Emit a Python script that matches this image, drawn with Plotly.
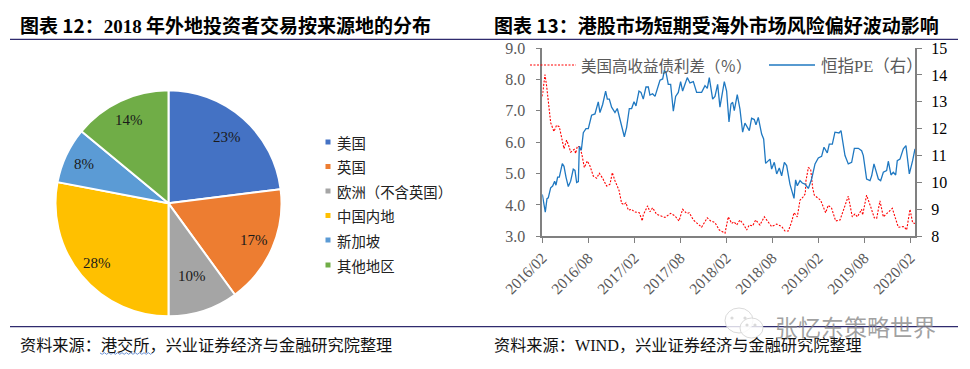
import math
import plotly.graph_objects as go

W, H = 970, 369

pie_labels = ["美国", "英国", "欧洲（不含英国）", "中国内地", "新加坡", "其他地区"]
pie_values = [23, 17, 10, 28, 8, 14]
pie_colors = ["#4472C4", "#ED7D31", "#A5A5A5", "#FFC000", "#5B9BD5", "#70AD47"]

date_ticks = [0, 6, 12, 18, 24, 30, 36, 42, 48]
date_labels = ["2016/02", "2016/08", "2017/02", "2017/08", "2018/02", "2018/08", "2019/02", "2019/08", "2020/02"]

pe_months = [0, .39, .61, .78, 1.09, 1.35, 1.61, 1.78, 2.0, 2.22, 2.61, 2.83, 3.09, 3.39, 3.7, 4.04, 4.26, 4.48, 4.7, 4.83,
             5.09, 5.35, 5.7, 6, 6.43, 6.87, 7.3, 7.52, 7.87, 8.26, 8.48, 8.74, 9.04, 9.48, 9.78, 10.22, 10.7, 11, 11.35, 11.65,
             11.96, 12.22, 12.61, 12.87, 13.17, 13.52, 13.83, 14.04, 14.39, 14.7, 15, 15.35, 15.7, 15.91, 16.13, 16.43, 16.74, 17.09, 17.39, 17.74,
             18.04, 18.3, 18.61, 18.91, 19.26, 19.7, 20.13, 20.78, 21.22, 21.52, 21.78, 22.22, 22.52, 22.87, 23.17, 23.74, 24.04, 24.35, 24.61, 24.83,
             25.04, 25.43, 25.78, 26.13, 26.43, 27, 27.3, 27.65, 27.87, 28.17, 28.61, 28.87, 29.13, 29.7, 29.91, 30.26, 30.57, 30.91, 31.22, 31.57,
             31.87, 32.3, 32.83, 33.04, 33.26, 33.61, 33.91, 34.26, 34.7, 35.13, 35.57, 36, 36.43, 36.74, 37.17, 37.43, 37.83, 38.17, 38.7, 38.96,
             39.48, 39.91, 40.35, 40.7, 41.22, 41.65, 41.87, 42.3, 42.74, 42.96, 43.26, 43.83, 44.13, 44.48, 44.91, 45.13, 45.48, 45.78, 46.09, 46.3,
             46.65, 47.09, 47.43, 47.87, 48.3, 48.61]
pe_values = [9.56, 8.9, 9.4, 9.43, 9.8, 9.87, 10.05, 9.9, 10.2, 10.2, 10.7, 10.6, 10.2, 9.85, 10.05, 10.5, 10.45, 10.0, 10.03, 11.35,
             11.2, 11.85, 12, 12, 12.5, 12.55, 13, 12.6, 12.9, 13.4, 13.1, 13.1, 12.8, 12.6, 12.75, 12.25, 11.7, 12.05, 12.75, 12.75,
             13, 12.85, 13.4, 13.35, 13.1, 13.55, 13.55, 13.25, 13.3, 13.2, 13.5, 13.8, 13.85, 14.15, 14.1, 13.65, 13.65, 12.65, 13.2, 13.35,
             13.75, 13.4, 13.65, 13.9, 13.7, 13.75, 13.35, 13.35, 13.6, 13.5, 13.9, 13.1, 13.2, 13.65, 12.8, 13.75, 13.4, 12.25, 12.92, 12.98,
             12.67, 13.27, 12.73, 11.87, 12.21, 11.93, 12.39, 12.34, 12.14, 12.42, 11.8, 11.62, 10.71, 10.87, 10.5, 10.75, 10.32, 10.54, 10.25, 10.75,
             10.63, 9.94, 9.41, 10.1, 9.88, 10.07, 9.98, 9.94, 9.78, 10.13, 10.69, 10.91, 10.97, 11.31, 11.1, 11.43, 11.43, 11.87, 11.84, 11.93,
             11, 10.69, 10.75, 11.27, 11.27, 11.18, 11, 10.13, 10.07, 10.25, 10.69, 10.13, 10.07, 10.38, 10.44, 10.79, 10.28, 10.38, 10.28, 10.81,
             10.87, 11.25, 11.37, 10.32, 10.81, 11.25]

spread_months = [0, .35, .57, .78, 1.09, 1.52, 1.87, 2.22, 2.52, 2.83, 3.17, 3.39, 3.7, 4.17, 4.35, 4.57, 4.91, 5.17, 5.48, 5.87,
                 6.22, 6.65, 7.09, 7.43, 7.87, 8.39, 8.83, 9.13, 9.48, 10, 10.35, 10.65, 10.91, 11.22, 11.65, 12, 12.65, 13.04, 13.17, 13.74,
                 14.04, 14.39, 14.91, 15.57, 16, 16.74, 17.3, 17.83, 18.3, 18.83, 19.17, 19.7, 20.22, 20.78, 21.52, 21.96, 22.52, 23.09, 23.83, 24.26,
                 24.7, 25, 25.35, 25.78, 26.3, 26.65, 27, 27.43, 27.83, 28.39, 28.96, 29.48, 29.91, 30.57, 31.22, 31.65, 32.09, 32.52, 32.83, 33.26,
                 33.61, 34.04, 34.3, 34.39, 34.7, 35, 35.26, 35.48, 36, 36.3, 36.96, 37.3, 37.74, 38.26, 38.83, 39.35, 39.91, 40.43, 40.78, 41.09,
                 41.65, 41.78, 42.3, 42.83, 43.3, 43.61, 44.04, 44.48, 45.13, 45.65, 46.43, 47, 47.17, 47.52, 47.96, 48.3, 48.61]
spread_values = [7.46, 8.15, 7.78, 7.25, 6.62, 6.34, 6.54, 6.49, 6.14, 5.79, 6.06, 5.93, 5.68, 5.77, 5.64, 5.87, 5.85, 5.6, 5.19, 5.4,
                 5.24, 4.92, 4.85, 5.01, 4.85, 4.6, 4.66, 5.03, 4.77, 4.47, 4.05, 4.01, 4.07, 3.83, 3.86, 3.78, 3.75, 3.49, 3.68, 3.97,
                 3.78, 3.91, 3.7, 3.64, 3.6, 3.73, 3.65, 3.49, 3.86, 3.73, 3.75, 3.52, 3.41, 3.29, 3.59, 3.49, 3.44, 3.2, 3.1, 3.62,
                 3.41, 3.46, 3.36, 3.52, 3.36, 3.2, 3.36, 3.33, 3.52, 3.36, 3.62, 3.43, 3.31, 3.39, 3.31, 3.17, 3.17, 3.46, 3.75, 3.62,
                 4.15, 4.26, 4.36, 4.77, 5.19, 5.14, 4.55, 4.31, 4.2, 4.15, 3.75, 3.99, 3.89, 3.49, 3.52, 3.89, 4.28, 3.62, 3.71, 3.62,
                 3.86, 3.68, 4.31, 3.94, 3.59, 3.57, 4.13, 3.62, 3.78, 3.89, 3.29, 3.29, 3.31, 3.2, 3.86, 3.43, 3.41]

SERIF = "Liberation Serif"
CJK = "Noto Sans CJK SC"
GRAY = "#595959"
NAVY = "#2F2B6E"
BLUE = "#1F78C1"


def px(x):
    return x / W


def py(y):
    return 1 - y / H


L, R, T, B = 542.3, 915.3, 48.0, 236.3
PIE_CX, PIE_CY, PIE_R = 168.5, 203.3, 113.0
label_radius = [89, 93, 76, 93, 93, 92]

fig = go.Figure()

fig.add_trace(go.Pie(
    labels=pie_labels, values=pie_values, sort=False, direction="clockwise", rotation=0,
    marker=dict(colors=pie_colors, line=dict(color="white", width=2)),
    textinfo="none",
    domain=dict(x=[px(PIE_CX - PIE_R), px(PIE_CX + PIE_R)], y=[py(PIE_CY + PIE_R), py(PIE_CY - PIE_R)]),
    showlegend=False, hoverinfo="label+value",
))

fig.add_trace(go.Scatter(
    x=spread_months, y=spread_values, mode="lines", name="美国高收益债利差（%）",
    line=dict(color="#FF0000", width=1.1, dash="2px,1.5px"), xaxis="x", yaxis="y", showlegend=False,
))
fig.add_trace(go.Scatter(
    x=pe_months, y=pe_values, mode="lines", name="恒指PE（右）",
    line=dict(color=BLUE, width=1.3), xaxis="x", yaxis="y2", showlegend=False,
))

annotations = []


def note(x, y, text, size, color="black", family=CJK, anchor="left"):
    annotations.append(dict(x=px(x), y=py(y), xref="paper", yref="paper", text=text, showarrow=False,
                            xanchor=anchor, yanchor="middle", align="left", borderpad=0,
                            font=dict(family=family, size=size, color=color)))


def serif(t):
    return f"<span style='font-family:{SERIF}'>{t}</span>"


# pie value labels, placed from the slice mid-angles
total = sum(pie_values)
running = 0
for value, radius in zip(pie_values, label_radius):
    mid = 2 * math.pi * (running + value / 2) / total
    running += value
    note(PIE_CX + radius * math.sin(mid), PIE_CY - radius * math.cos(mid), f"{value}%", 15,
         color="#1a1a1a", family=SERIF, anchor="center")

note(19, 24.5, f"<b>图表 12：{serif('2018')} 年外地投资者交易按来源地的分布</b>", 19)
note(493, 24.5, "<b>图表 13：港股市场短期受海外市场风险偏好波动影响</b>", 19)
note(19, 344, "资料来源：港交所，兴业证券经济与金融研究院整理", 16.2, color="#111111")
note(493, 344, f"资料来源：{serif('WIND')}，兴业证券经济与金融研究院整理", 16.2, color="#111111")

legend_y = [142, 166.5, 191, 215.5, 240, 265]
shapes = []
for lab, col, y in zip(pie_labels, pie_colors, legend_y):
    note(336, y, lab, 14.4, color="#222222")
    shapes.append(dict(type="rect", xref="paper", yref="paper", x0=px(325.5), x1=px(330.5), y0=py(y + 2.5), y1=py(y - 2.5),
                       fillcolor=col, line=dict(width=0)))

note(580, 65, "美国高收益债利差（％）", 15.5, color=GRAY)
note(820, 65, f"恒指{serif('PE')}（右）", 16.5, color=GRAY)
shapes.append(dict(type="line", xref="paper", yref="paper", x0=px(530), x1=px(576), y0=py(65), y1=py(65),
                   line=dict(color="#FF0000", width=1, dash="2px,1.5px")))
shapes.append(dict(type="line", xref="paper", yref="paper", x0=px(769), x1=px(815), y0=py(65), y1=py(65),
                   line=dict(color=BLUE, width=1.3)))

for y in (39.3, 326.7):
    shapes.append(dict(type="line", xref="paper", yref="paper", x0=px(10), x1=px(958), y0=py(y), y1=py(y),
                       line=dict(color=NAVY, width=1.2)))

# spell-check squiggle under the source name
wave = f"M{px(100):.5f},{py(353):.5f}" + "".join(
    f" L{px(100 + 2.2 * i):.5f},{py(353 + (1.3 if i % 2 else -0.3)):.5f}" for i in range(1, 25))
shapes.append(dict(type="path", path=wave, xref="paper", yref="paper", line=dict(color="#4A78C8", width=0.8)))

# watermark: two chat bubbles with eyes, and the account name
for x0, x1, y0, y1 in ((725, 753, 308, 333), (740, 763, 318, 338)):
    shapes.append(dict(type="circle", xref="paper", yref="paper", x0=px(x0), x1=px(x1), y0=py(y1), y1=py(y0),
                       fillcolor="rgba(255,255,255,0.8)", line=dict(color="#DADADA", width=1)))
for cx, cy in ((732, 318), (745, 318), (747, 325), (755, 325)):
    shapes.append(dict(type="circle", xref="paper", yref="paper", x0=px(cx - 1.6), x1=px(cx + 1.6), y0=py(cy + 1.6), y1=py(cy - 1.6),
                       fillcolor="#DADADA", line=dict(width=0)))
note(774, 325.5, "张忆东策略世界", 23, color="rgba(130,130,130,0.75)")

axis_line = dict(showline=True, linecolor="#808080", linewidth=1.5, ticks="outside", ticklen=5,
                 tickcolor="#808080", tickwidth=1, showgrid=False, zeroline=False, automargin=False)

fig.update_layout(
    template="none",
    width=W, height=H, autosize=False, margin=dict(l=0, r=0, t=0, b=0, pad=0),
    paper_bgcolor="white", plot_bgcolor="white", showlegend=False,
    xaxis=dict(domain=[px(L), px(R)], range=[0, 48.65], tickmode="array", tickvals=date_ticks, ticktext=date_labels,
               tickangle=-45, tickfont=dict(family=SERIF, size=15.5, color=GRAY), anchor="y", **axis_line),
    yaxis=dict(domain=[py(B), py(T)], range=[3, 9], tickmode="array", tickvals=[3, 4, 5, 6, 7, 8, 9],
               ticktext=["3.0", "4.0", "5.0", "6.0", "7.0", "8.0", "9.0"], ticklabelstandoff=7,
               tickfont=dict(family=SERIF, size=16, color=GRAY), anchor="x", **axis_line),
    yaxis2=dict(domain=[py(B), py(T)], range=[8, 15], tickmode="array", tickvals=[8, 9, 10, 11, 12, 13, 14, 15],
                ticklabelstandoff=6,
                tickfont=dict(family=SERIF, size=16, color="black"), overlaying="y", side="right", anchor="x", **axis_line),
    annotations=annotations, shapes=shapes,
)

fig.write_html("out.html", config=dict(displayModeBar=False),
               post_script="document.body.style.margin='0';document.body.style.overflow='hidden';")
